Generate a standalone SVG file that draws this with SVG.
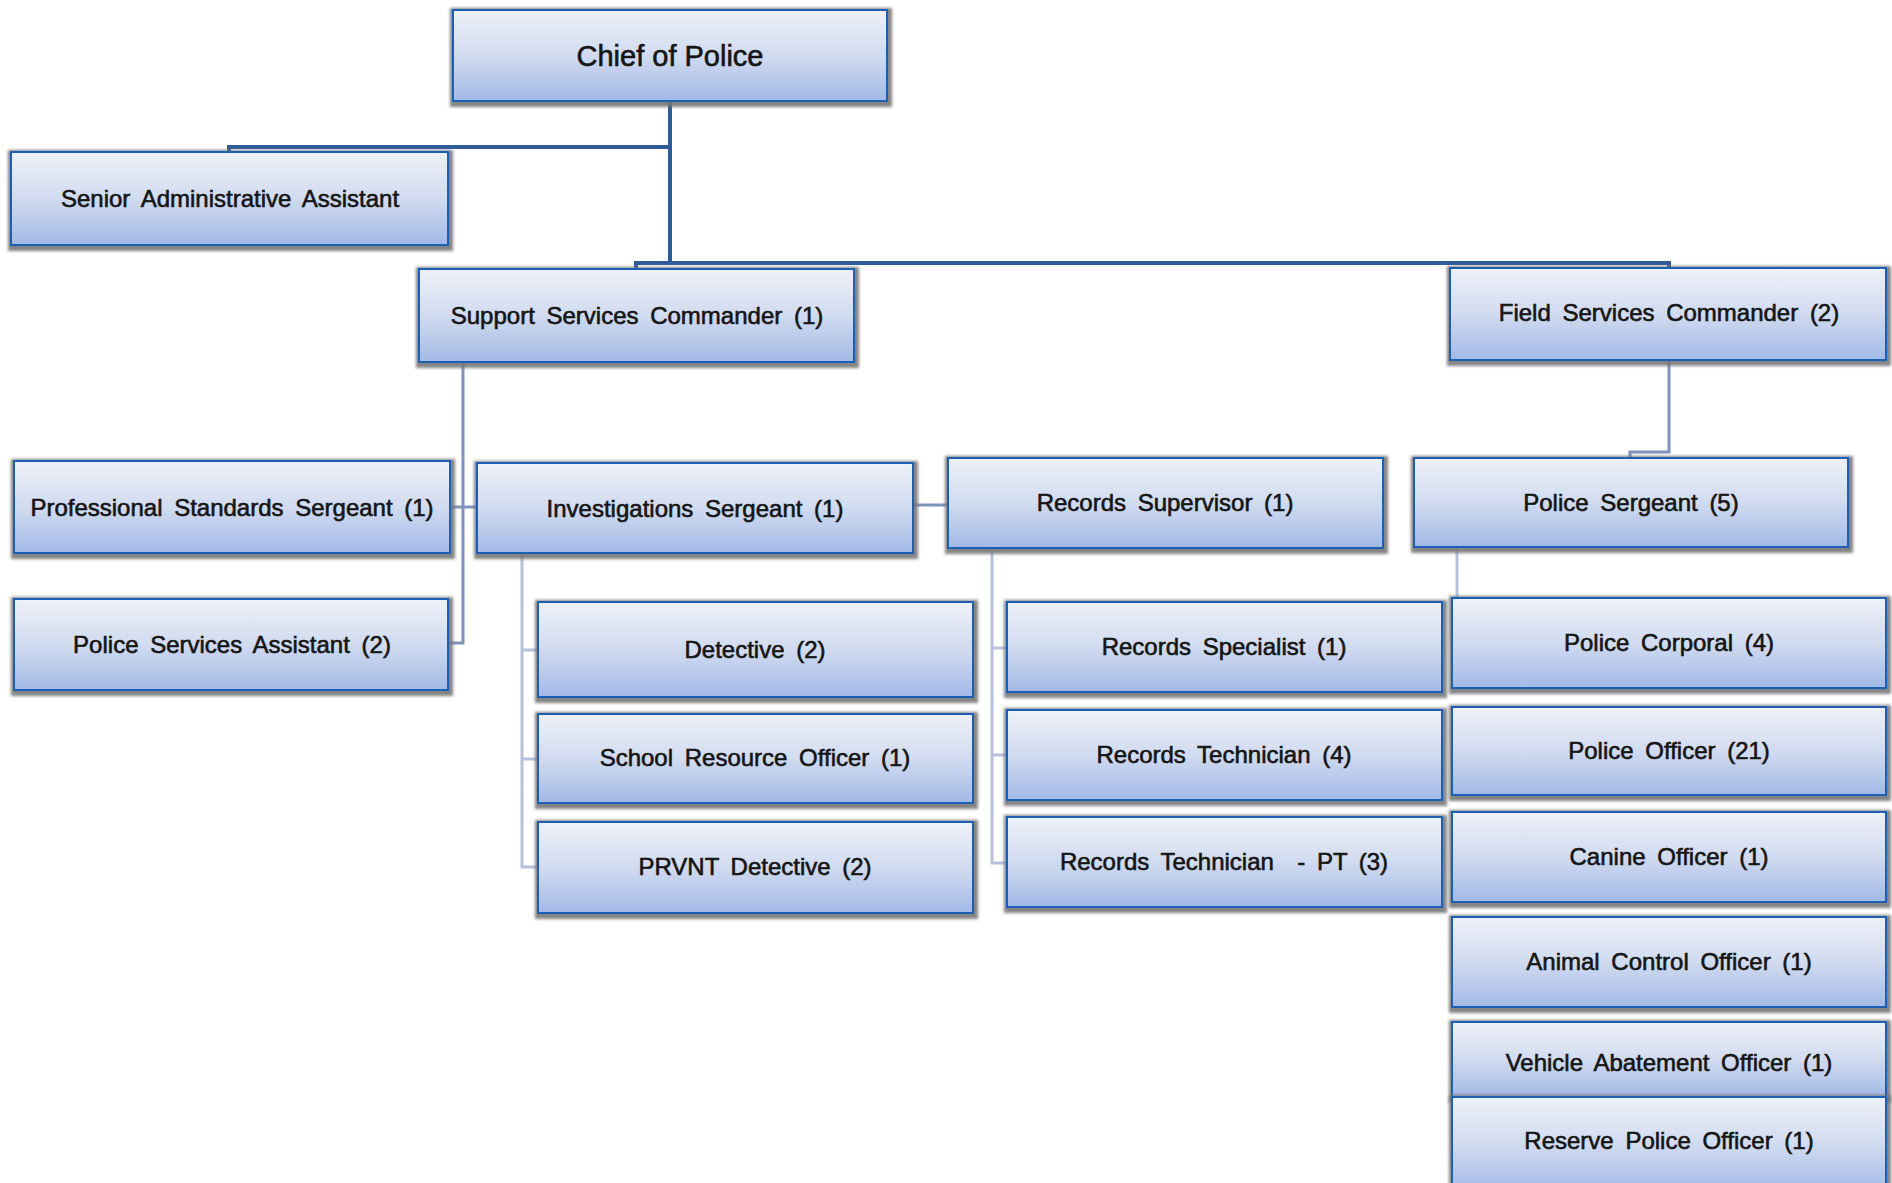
<svg xmlns="http://www.w3.org/2000/svg" width="1892" height="1183" viewBox="0 0 1892 1183">
<defs>
<linearGradient id="bg" x1="0" y1="0" x2="0" y2="1">
<stop offset="0" stop-color="#eef1f8"/>
<stop offset="0.5" stop-color="#d1dbf0"/>
<stop offset="1" stop-color="#a2b9e6"/>
</linearGradient>
<filter id="sh" x="-10%" y="-20%" width="120%" height="140%">
<feMorphology in="SourceAlpha" operator="dilate" radius="3" result="d"/>
<feGaussianBlur in="d" stdDeviation="1.5" result="b"/>
<feOffset in="b" dx="1" dy="2" result="o"/>
<feFlood flood-color="#767676" flood-opacity="0.9"/>
<feComposite in2="o" operator="in" result="s"/>
<feMerge><feMergeNode in="s"/><feMergeNode in="SourceGraphic"/></feMerge>
</filter>
</defs>
<style>
.box{fill:url(#bg);stroke:#1f5fb5;stroke-width:2;filter:url(#sh)}
.t{font-family:"Liberation Sans",Arial,sans-serif;font-size:24px;fill:#151515;text-anchor:middle;word-spacing:5px;stroke:#151515;stroke-width:0.6}
.big{font-size:29px;word-spacing:0}
.c1{fill:none;stroke:#2f5b98;stroke-width:4}
.c2{fill:none;stroke:#7f92bb;stroke-width:3}
.c3{fill:none;stroke:#b7c0dc;stroke-width:3}
</style>
<rect width="1892" height="1183" fill="#ffffff"/>
<g id="connectors">
<path class="c1" d="M670,101 V263"/>
<path class="c1" d="M670,147 H229 V152"/>
<path class="c1" d="M636,269 V263 H1669 V268"/>
<path class="c2" d="M463,362 V643 H448"/>
<path class="c2" d="M450,507 H477"/>
<path class="c2" d="M913,505 H948"/>
<path class="c2" d="M1669,360 V452 H1630 V458"/>
<path class="c3" d="M522,553 V867 H538 M522,650 H538 M522,759 H538"/>
<path class="c3" d="M992,548 V863 H1007 M992,648 H1007 M992,755 H1007"/>
<path class="c3" d="M1457,547 V600"/>
</g>
<g id="chief"><rect class="box" x="453" y="10" width="434" height="91"/><text class="t big" x="670" y="66">Chief of Police</text></g>
<g id="senior-admin"><rect class="box" x="11" y="152" width="437" height="93"/><text class="t" x="230" y="207">Senior Administrative Assistant</text></g>
<g id="support-commander"><rect class="box" x="419" y="269" width="435" height="93"/><text class="t" x="637" y="324">Support Services Commander (1)</text></g>
<g id="field-commander"><rect class="box" x="1450" y="268" width="436" height="92"/><text class="t" x="1669" y="321">Field Services Commander (2)</text></g>
<g id="prof-standards"><rect class="box" x="14" y="461" width="436" height="92"/><text class="t" x="232" y="516">Professional Standards Sergeant (1)</text></g>
<g id="police-services-assistant"><rect class="box" x="14" y="599" width="434" height="91"/><text class="t" x="232" y="653">Police Services Assistant (2)</text></g>
<g id="investigations-sergeant"><rect class="box" x="477" y="463" width="436" height="90"/><text class="t" x="695" y="517">Investigations Sergeant (1)</text></g>
<g id="records-supervisor"><rect class="box" x="948" y="458" width="435" height="90"/><text class="t" x="1165" y="511">Records Supervisor (1)</text></g>
<g id="police-sergeant"><rect class="box" x="1414" y="458" width="434" height="89"/><text class="t" x="1631" y="511">Police Sergeant (5)</text></g>
<g id="detective"><rect class="box" x="538" y="602" width="435" height="95"/><text class="t" x="755" y="658">Detective (2)</text></g>
<g id="school-resource-officer"><rect class="box" x="538" y="714" width="435" height="89"/><text class="t" x="755" y="766">School Resource Officer (1)</text></g>
<g id="prvnt-detective"><rect class="box" x="538" y="822" width="435" height="91"/><text class="t" x="755" y="875">PRVNT Detective (2)</text></g>
<g id="records-specialist"><rect class="box" x="1007" y="602" width="435" height="90"/><text class="t" x="1224" y="655">Records Specialist (1)</text></g>
<g id="records-technician"><rect class="box" x="1007" y="710" width="435" height="90"/><text class="t" x="1224" y="763">Records Technician (4)</text></g>
<g id="records-technician-pt"><rect class="box" x="1007" y="817" width="435" height="90"/><text class="t" x="1224" y="870" xml:space="preserve">Records Technician  - PT (3)</text></g>
<g id="police-corporal"><rect class="box" x="1452" y="598" width="434" height="90"/><text class="t" x="1669" y="651">Police Corporal (4)</text></g>
<g id="police-officer"><rect class="box" x="1452" y="707" width="434" height="88"/><text class="t" x="1669" y="759">Police Officer (21)</text></g>
<g id="canine-officer"><rect class="box" x="1452" y="812" width="434" height="90"/><text class="t" x="1669" y="865">Canine Officer (1)</text></g>
<g id="animal-control-officer"><rect class="box" x="1452" y="917" width="434" height="90"/><text class="t" x="1669" y="970">Animal Control Officer (1)</text></g>
<g id="vehicle-abatement-officer"><rect class="box" x="1452" y="1022" width="434" height="75"/><text class="t" x="1669" y="1071">Vehicle Abatement Officer (1)</text></g>
<g id="reserve-police-officer"><rect class="box" x="1452" y="1097" width="434" height="95"/><text class="t" x="1669" y="1149">Reserve Police Officer (1)</text></g>
</svg>
